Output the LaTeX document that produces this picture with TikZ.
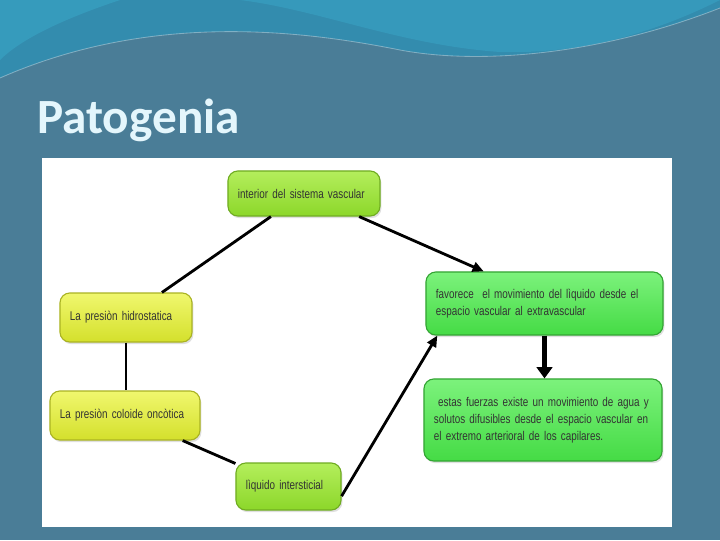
\documentclass[tikz,border=0pt]{standalone}
\usepackage{fontspec}
\setmainfont{Liberation Sans}[FakeStretch=0.78]
\newfontfamily\titlefont{Carlito}
\usepackage{tikz}
\usetikzlibrary{arrows.meta,positioning,calc,shadows}
\definecolor{ptbg}{HTML}{4A7D97}
\definecolor{ptwave}{HTML}{2A93B8}
\definecolor{ptwavelt}{HTML}{3AAACB}
\definecolor{pttitle}{HTML}{E4F6FC}
\definecolor{ptlime}{HTML}{8CD72A}
\definecolor{ptlimelt}{HTML}{B4EE5C}
\definecolor{ptyel}{HTML}{D4E02C}
\definecolor{ptyellt}{HTML}{F0F76E}
\definecolor{ptgreen}{HTML}{45DB45}
\definecolor{ptgreenlt}{HTML}{7CF27C}
\definecolor{pttext}{HTML}{333333}
\newcommand{\ptboxfont}{\fontsize{9}{12}\selectfont\spaceskip=0.19em plus 0.05em\relax}

\begin{document}
\begin{tikzpicture}[x=0.025cm,y=-0.025cm,
  box/.style={rectangle,rounded corners=7pt,align=left,inner xsep=0.25cm,
    font=\ptboxfont,text=pttext,line width=0.8pt,
    drop shadow={opacity=0.25,shadow xshift=1pt,shadow yshift=-1.5pt}},
  limebox/.style={box,draw=ptlime!80!black,top color=ptlimelt,bottom color=ptlime},
  yelbox/.style={box,draw=ptyel!80!black,top color=ptyellt,bottom color=ptyel},
  greenbox/.style={box,draw=ptgreen!75!black,top color=ptgreenlt,bottom color=ptgreen},
  link/.style={line width=2pt,black},
  arr/.style={link,-{Triangle[length=8pt,width=7pt]}},
  bigarr/.style={line width=4pt,black,-{Triangle[length=8pt,width=11pt]}}]
  \useasboundingbox (0,0) rectangle (720,540);
  % slide background
  \fill[ptbg] (0,0) rectangle (720,540);
  \fill[ptwave,opacity=0.7] (0,0) -- (720,0) -- (720,8) .. controls (600,55) and (480,65) .. (400,50)
        .. controls (300,30) and (150,12) .. (0,78) -- cycle;
  \fill[ptwavelt,opacity=0.45] (240,0) .. controls (320,10) and (400,45) .. (500,52)
        .. controls (600,55) and (680,20) .. (720,0) -- cycle;
  \fill[ptwavelt,opacity=0.5] (0,0) -- (120,0) .. controls (60,20) and (20,40) .. (0,60) -- cycle;
  \draw[white,opacity=0.35,line width=0.6pt] (0,78) .. controls (150,12) and (300,30) .. (400,50)
        .. controls (480,65) and (600,55) .. (720,8);
  \node[anchor=base west,font=\titlefont\bfseries\fontsize{35}{40}\selectfont,text=pttitle,inner sep=0pt]
        (title) at (37,133) {Patogenia};
  \fill[white] (42,158) rectangle (672,527);
  % concept map
  \node[limebox,minimum width=3.8cm,minimum height=1.125cm,text width=3.3cm] (int) at (304,193.5)
        {interior del sistema vascular};
  \node[yelbox,minimum width=3.3cm,minimum height=1.225cm,text width=2.8cm] (hid) at (126,317.5)
        {La presiòn hidrostatica};
  \node[greenbox,minimum width=5.925cm,minimum height=1.575cm,text width=5.425cm] (fav) at (544.5,303.5)
        {favorece\ \ el movimiento del lìquido desde el\\espacio vascular al extravascular};
  \node[greenbox,minimum width=5.95cm,minimum height=2.05cm,text width=5.45cm] (est) at (543,420)
        {\ estas fuerzas existe un movimiento de agua y\\solutos difusibles desde el espacio vascular en\\el extremo arterioral de los capilares.};
  \node[yelbox,minimum width=3.75cm,minimum height=1.225cm,text width=3.25cm] (onc) at (125,415.5)
        {La presiòn coloide oncòtica};
  \node[limebox,minimum width=2.625cm,minimum height=1.175cm,text width=2.125cm] (liq) at (288.5,486.5)
        {lìquido intersticial};
  \draw[link] (int) -- (hid);
  \draw[link] (hid.south) -- (hid.south |- onc.north);
  \draw[link] (onc) -- (liq);
  \draw[arr] ($(int.south west)!0.86!(int.south east)$) -- ($(fav.north west)!0.245!(fav.north east)$);
  \draw[arr] ($(liq.south east)!0.3!(liq.north east)$) -- ($(fav.south west)!0.05!(fav.south east)$);
  \draw[bigarr] (fav.south) -- (fav.south |- est.north);
\end{tikzpicture}
\end{document}
